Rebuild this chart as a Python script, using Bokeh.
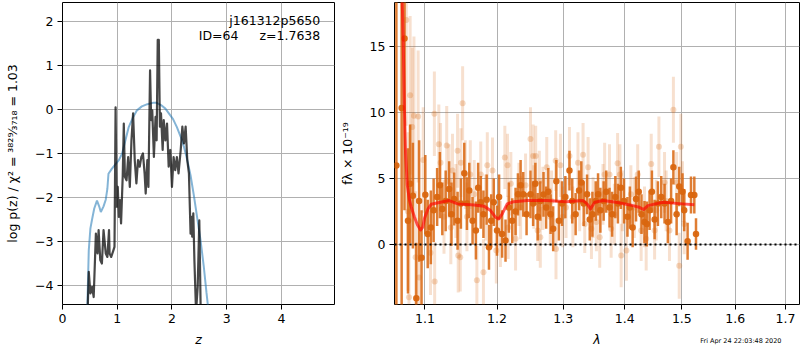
from bokeh.plotting import figure
from bokeh.layouts import column
from bokeh.models import (FixedTicker, PrintfTickFormatter, Span, Label, Range1d,
                          ColumnDataSource, GridBox)
from bokeh.embed import file_html
from bokeh.resources import INLINE

# ---------------- left panel: p(z) ----------------
z_chi = [0.43, 0.455, 0.48, 0.51, 0.54, 0.58, 0.63, 0.67, 0.70, 0.75, 0.79, 0.82, 0.84, 0.90, 0.97,
         1.03, 1.09, 1.15, 1.21, 1.28, 1.36, 1.45, 1.55, 1.65, 1.72, 1.80, 1.88, 1.95, 2.02, 2.09,
         2.16, 2.22, 2.28, 2.34, 2.40, 2.46, 2.52, 2.58, 2.63, 2.67, 2.70]
logp_chi = [-5.0, -4.43, -3.2, -2.7, -2.5, -2.25, -2.07, -2.2, -2.33, -2.2, -2.05, -1.8, -1.46, -1.35, -1.24,
            -1.15, -1.0, -0.7, -0.4, -0.2, -0.02, 0.07, 0.12, 0.15, 0.15, 0.1, 0.02, -0.1, -0.22, -0.4,
            -0.62, -0.85, -1.15, -1.5, -1.95, -2.45, -2.95, -3.55, -4.15, -4.6, -5.0]

z_pz = [0.45, 0.48, 0.51, 0.54, 0.57, 0.61, 0.64, 0.66, 0.69, 0.72, 0.75, 0.79, 0.82, 0.85, 0.86, 0.89,
        0.93, 0.95, 0.97, 0.99, 1.01, 1.03, 1.05, 1.07, 1.10, 1.12, 1.14, 1.17, 1.20, 1.23, 1.26, 1.29,
        1.32, 1.35, 1.38, 1.41, 1.44, 1.47, 1.50, 1.52, 1.55, 1.57, 1.60, 1.62, 1.64, 1.67, 1.70, 1.72,
        1.74, 1.76, 1.78, 1.80, 1.83, 1.85, 1.88, 1.91, 1.94, 1.97, 2.00, 2.03, 2.06, 2.09, 2.12, 2.16,
        2.19, 2.22, 2.25, 2.28, 2.31, 2.34, 2.36, 2.37, 2.39, 2.41, 2.44, 2.47, 2.50, 2.53]
logp_pz = [-5.0, -3.69, -4.18, -4.03, -4.26, -2.82, -3.27, -2.74, -3.42, -3.50, -2.74, -3.27, -3.35, -2.74,
           -3.27, -3.35, -3.20, -3.12, 0.05, -2.21, -1.76, -2.44, -2.06, -2.59, -1.53, -0.32, -1.53, -1.61,
           -1.08, -1.76, -0.70, -0.09, -1.15, -1.68, -1.15, -1.30, -1.08, -1.00, -1.45, -1.91, -1.15, -1.76,
           0.89, -0.24, -0.02, -1.08, -0.17, -0.70, 1.58, 1.58, -0.39, -0.09, -0.92, -0.24, -0.70, -0.32,
           -1.30, -0.92, -1.76, -1.08, -1.38, -1.08, -1.45, -0.92, -0.39, -0.77, -0.39, -1.15, -1.45, -2.82,
           -2.44, -2.89, -2.36, -3.42, -4.6, -4.03, -2.52, -5.0]

z_ticks = [0, 1, 2, 3, 4]
logp_ticks = [-4, -3, -2, -1, 0, 1, 2]
logp_tick_labels = ["\u22124", "\u22123", "\u22122", "\u22121", "0", "1", "2"]

obj_name = "j161312p5650"
obj_id = "ID=64"
obj_z = "z=1.7638"
left_ylabel = "log p(z) / \u03c7\u00b2 = \u00b3\u2078\u00b2\u2079\u2044\u2083\u2087\u2081\u2088 = 1.03"

# ---------------- right panel: spectrum ----------------
lam_bin = [1.0627, 1.0695, 1.0732, 1.0777, 1.0805, 1.0841, 1.0886, 1.0923, 1.0955, 1.1005,
           1.1037, 1.1079, 1.1116, 1.1163, 1.1200, 1.1233, 1.1279, 1.1326, 1.1358, 1.1395,
           1.1442, 1.1488, 1.1535, 1.1572, 1.1605, 1.1651, 1.1698, 1.1730, 1.1767, 1.1805,
           1.1851, 1.1884, 1.1916, 1.1953, 1.2000, 1.2030, 1.2074, 1.2124, 1.2173, 1.2223,
           1.2272, 1.2307, 1.2347, 1.2386, 1.2436, 1.2495, 1.2535, 1.2569, 1.2604, 1.2644,
           1.2693, 1.2733, 1.2767, 1.2802, 1.2842, 1.2891, 1.2931, 1.2980, 1.3032, 1.3097,
           1.3141, 1.3195, 1.3249, 1.3286, 1.3324, 1.3378, 1.3422, 1.3465, 1.3519, 1.3557,
           1.3595, 1.3649, 1.3692, 1.3746, 1.3789, 1.3843, 1.3886, 1.3935, 1.3989, 1.4047,
           1.4088, 1.4135, 1.4193, 1.4240, 1.4287, 1.4339, 1.4380, 1.4427, 1.4468, 1.4515,
           1.4573, 1.4632, 1.4690, 1.4749, 1.4807, 1.4848, 1.4906, 1.4953, 1.5012, 1.5043,
           1.5105, 1.5167, 1.5228, 1.5259]
flux_bin = [5.98, 10.34, 15.6, 1.8, 4.6, 3.7, -4.06, 3.3, -1.0, 3.78,
            0.8, 1.3, 2.6, 3.6, 4.5, 2.7, 3.3, 4.2, 2.3, 3.45,
            1.8, 3.1, 5.4, 3.1, 4.1, 1.8, 1.06, 4.3, 3.2, 2.3,
            3.4, -0.2, 1.8, 3.2, 1.06, 3.6, 0.8, 0.3, 2.8, 1.8,
            2.5, 3.8, 4.5, 3.8, 2.3, 3.8, 3.1, 4.6, 2.1, 3.3,
            3.8, 2.8, 4.0, 2.3, 1.2, 4.8, 1.8, 3.1, 3.6, 5.6,
            3.3, 2.3, 4.1, 4.7, 3.1, 3.8, 1.9, 2.3, 3.3, 3.8,
            2.6, 3.3, 4.0, 2.8, 2.3, 3.6, 3.1, 4.3, 3.3, 2.1,
            2.8, 1.3, 3.45, 4.0, 2.3, 1.7, 1.56, 2.6, 4.0, 1.9,
            3.1, 3.6, 3.1, 1.7, 3.3, 5.85, 2.3, 4.4, 4.0, 2.6,
            0.25, 3.75, 3.75, 0.8]
err_bin = [20, 16, 13, 5.5, 4.5, 4.0, 4.2, 4.6, 3.6, 3.0,
           2.6, 2.8, 2.4, 2.2, 2.5, 2.0, 2.3, 2.1, 2.4, 2.0,
           2.2, 1.9, 2.3, 2.0, 2.1, 1.8, 2.2, 1.9, 2.0, 1.8,
           1.9, 1.7, 2.0, 1.8, 1.9, 1.7, 1.8, 1.6, 1.9, 1.7,
           1.8, 1.6, 1.9, 1.7, 1.6, 1.8, 1.7, 1.6, 1.8, 1.5,
           1.7, 1.6, 1.8, 1.5, 1.7, 1.6, 1.5, 1.7, 1.6, 1.5,
           1.7, 1.6, 1.5, 1.6, 1.7, 1.5, 1.6, 1.7, 1.5, 1.6,
           1.7, 1.5, 1.6, 1.5, 1.7, 1.6, 1.5, 1.6, 1.7, 1.5,
           1.6, 1.5, 1.7, 1.6, 1.5, 1.6, 1.7, 1.5, 1.6, 1.5,
           1.7, 1.6, 1.5, 1.6, 1.7, 1.3, 1.6, 1.5, 1.4, 1.6,
           1.4, 1.4, 1.4, 1.2]

lam_raw = [1.0755, 1.0805, 1.0832, 1.0855, 1.0910, 1.0977, 1.0777, 1.0877, 1.0790, 1.0923,
           1.1126, 1.1186, 1.1209, 1.1293, 1.1326, 1.1372, 1.1442, 1.1451, 1.1479, 1.1512,
           1.1488, 1.1549, 1.1619, 1.1572, 1.1712, 1.1767, 1.1805, 1.1860, 1.1935, 1.1990,
           1.2050, 1.2114, 1.2153, 1.2202, 1.2272, 1.2322, 1.2421, 1.2495, 1.2535, 1.2574,
           1.2604, 1.2629, 1.2683, 1.2743, 1.2797, 1.2881, 1.2886, 1.2955, 1.3043, 1.3097,
           1.3232, 1.3314, 1.3341, 1.3395, 1.3449, 1.3530, 1.3584, 1.3665, 1.3746, 1.3773,
           1.3881, 1.3919, 1.3941, 1.4029, 1.4105, 1.4222, 1.4281, 1.4368, 1.4456, 1.4515,
           1.4591, 1.4690, 1.4778, 1.4848, 1.4906, 1.4953, 1.4982, 1.5043, 1.5012,
           1.1256, 1.1349, 1.1419, 1.1674, 1.1837, 1.2163, 1.2347, 1.2545, 1.2644, 1.2817,
           1.2990, 1.3151, 1.3259, 1.3476, 1.3638, 1.3827, 1.3962, 1.4164, 1.4339, 1.4544,
           1.4719, 1.1130, 1.1074]
flux_raw = [17.0, 11.3, 8.9, 9.75, 9.7, 6.4, 2.5, -0.96, -4.0, -2.5,
            9.9, 7.6, 6.2, 7.5, 4.8, 5.6, 7.1, -0.83, -0.96, 10.7,
            6.2, 5.3, 5.3, 2.1, -2.7, 5.3, -2.1, 6.0, 5.6, -0.45,
            0.8, 6.6, 6.0, 4.6, 0.43, 3.8, 4.5, 8.0, 6.7, 6.7,
            1.06, 4.8, 3.5, 5.85, 2.1, 6.35, -0.33, 6.0, 2.8, 6.7,
            6.2, 6.8, 1.56, 5.85, 1.2, 1.7, 0.55, 5.3, 5.3, 1.2,
            6.15, 5.3, -0.83, -0.45, 3.8, 5.3, 1.06, 0.43, 6.1, 1.06,
            7.4, 4.7, 1.06, 10.2, 4.7, -1.6, 7.4, 1.56, 4.0,
            2.1, 1.3, 3.3, 3.8, 2.8, 1.3, 2.8, 3.6, 0.55, 3.3,
            2.1, 2.1, 3.3, 2.8, 3.8, 2.3, 3.3, 2.8, 2.1, 2.6,
            3.3, -2.8, -0.63]
err_raw = [8.0, 6.0, 6.0, 6.0, 5.0, 4.0, 6.0, 5.0, 6.0, 4.5,
           3.2, 3.0, 3.0, 3.0, 2.8, 2.8, 2.8, 2.8, 2.6, 2.8,
           2.6, 2.6, 2.6, 2.6, 2.6, 2.5, 2.5, 2.5, 2.5, 2.5,
           2.5, 2.4, 2.4, 2.4, 2.4, 2.4, 2.4, 2.4, 2.4, 2.3,
           2.3, 2.3, 2.4, 2.3, 2.2, 2.3, 2.3, 2.4, 2.3, 2.2,
           2.3, 2.4, 2.2, 2.3, 2.3, 2.2, 2.3, 2.4, 2.3, 2.2,
           2.3, 2.3, 2.4, 2.3, 2.2, 2.3, 2.3, 2.4, 2.3, 2.2,
           2.3, 2.3, 2.3, 2.5, 2.3, 2.5, 2.5, 2.3, 2.3,
           2.8, 2.8, 2.8, 2.6, 2.5, 2.4, 2.4, 2.4, 2.3, 2.3,
           2.3, 2.3, 2.3, 2.3, 2.3, 2.3, 2.3, 2.3, 2.3, 2.3,
           2.3, 3.0, 3.2]

lam_model = [1.0700, 1.0715, 1.0730, 1.0745, 1.0768, 1.0795, 1.0821, 1.0860, 1.0900, 1.0942,
             1.0970, 1.0995, 1.1040, 1.1083, 1.1160, 1.1210, 1.1326, 1.1442, 1.1674, 1.1814,
             1.1907, 1.1977, 1.2025, 1.2074, 1.2149, 1.2248, 1.2446, 1.2743, 1.3043, 1.3314,
             1.3378, 1.3433, 1.3503, 1.3638, 1.3854, 1.4135, 1.4251, 1.4322, 1.4398, 1.4661,
             1.5012, 1.5228]
flux_model = [19.0, 15.5, 10.5, 7.0, 4.5, 3.4, 2.8, 2.1, 1.5, 1.1,
              1.3, 2.0, 2.7, 3.05, 3.15, 3.2, 3.33, 3.08, 3.0, 2.9,
              2.57, 2.07, 1.94, 2.3, 3.08, 3.25, 3.33, 3.33, 3.25, 3.33,
              3.08, 2.7, 3.2, 3.33, 3.2, 2.95, 2.82, 2.65, 2.95, 3.2,
              3.08, 3.02]

lam_ticks = [1.1, 1.2, 1.3, 1.4, 1.5, 1.6, 1.7]
flux_ticks = [0, 5, 10, 15]
timestamp = "Fri Apr 24 22:03:48 2020"

FONT = "DejaVu Sans"
FS = "12.5px"
ORANGE = "#d9660f"


def style(p):
    p.outline_line_color = "black"
    p.outline_line_alpha = 1.0
    p.outline_line_width = 1
    p.background_fill_color = "white"
    p.border_fill_color = "white"
    for ax in p.axis:
        ax.axis_line_color = None
        ax.major_tick_out = 5
        ax.major_tick_in = 0
        ax.minor_tick_out = 0
        ax.minor_tick_in = 0
        ax.major_tick_line_color = "black"
        ax.major_label_text_font = FONT
        ax.major_label_text_font_size = FS
        ax.major_label_text_color = "black"
        ax.axis_label_text_font = FONT
        ax.axis_label_text_font_size = FS
        ax.axis_label_text_color = "black"
        ax.major_label_standoff = 4
    for g in p.grid:
        g.grid_line_color = "#b0b0b0"
        g.grid_line_width = 1


# ---------- left figure ----------
p1 = figure(width=336, height=350, x_range=Range1d(0, 4.97), y_range=Range1d(-4.43, 2.43),
            output_backend="svg", toolbar_location=None,
            min_border_left=62, min_border_right=2, min_border_top=2, min_border_bottom=46)
style(p1)
p1.xaxis.ticker = FixedTicker(ticks=z_ticks)
p1.yaxis.ticker = FixedTicker(ticks=logp_ticks)
p1.yaxis.major_label_overrides = {t: s for t, s in zip(logp_ticks, logp_tick_labels)}
p1.xaxis.axis_label = "z"
p1.xaxis.axis_label_text_font_style = "italic"
p1.xaxis.axis_label_standoff = 6
p1.yaxis.axis_label = left_ylabel
p1.yaxis.axis_label_text_font_style = "normal"
p1.yaxis.axis_label_standoff = 12

p1.line(z_chi, logp_chi, line_color="#1f77b4", line_alpha=0.55, line_width=2)
p1.line(z_pz, logp_pz, line_color="black", line_alpha=0.72, line_width=2.2, line_join="round")

for txt, xx, yy in [(obj_name, 4.71, 2.02), (obj_id, 3.215, 1.68), (obj_z, 4.71, 1.68)]:
    p1.add_layout(Label(x=xx, y=yy, text=txt, text_align="right", text_baseline="middle",
                        text_font=FONT, text_font_size=FS, text_color="black"))

# ---------- right figure ----------
p2 = figure(width=464, height=350, x_axis_type="log", x_range=Range1d(1.0603, 1.729),
            y_range=Range1d(-4.54, 18.33), output_backend="svg", toolbar_location=None,
            min_border_left=55, min_border_right=1, min_border_top=2, min_border_bottom=46)
style(p2)
p2.xaxis.ticker = FixedTicker(ticks=lam_ticks)
p2.xaxis.formatter = PrintfTickFormatter(format="%.1f")
p2.yaxis.ticker = FixedTicker(ticks=flux_ticks)
p2.xaxis.axis_label = "\u03bb"
p2.xaxis.axis_label_text_font_style = "italic"
p2.xaxis.axis_label_standoff = 6
p2.yaxis.axis_label = "f\u03bb \u00d7 10\u207b\u00b9\u2079"
p2.yaxis.axis_label_text_font_style = "normal"
p2.yaxis.axis_label_standoff = 12

raw = ColumnDataSource(dict(x=lam_raw, y=flux_raw,
                            lo=[f - e for f, e in zip(flux_raw, err_raw)],
                            hi=[f + e for f, e in zip(flux_raw, err_raw)]))
binned = ColumnDataSource(dict(x=lam_bin, y=flux_bin,
                               lo=[f - e for f, e in zip(flux_bin, err_bin)],
                               hi=[f + e for f, e in zip(flux_bin, err_bin)]))

p2.segment(x0="x", y0="lo", x1="x", y1="hi", source=raw, line_color=ORANGE, line_alpha=0.2, line_width=3)
p2.scatter("x", "y", source=raw, size=6, fill_color=ORANGE, fill_alpha=0.25, line_color=None)
p2.segment(x0="x", y0="lo", x1="x", y1="hi", source=binned, line_color=ORANGE, line_alpha=0.85, line_width=2.5)
p2.scatter("x", "y", source=binned, size=6.5, fill_color=ORANGE, fill_alpha=0.95, line_color=None)
p2.line(lam_model, flux_model, line_color="red", line_alpha=0.65, line_width=3, line_join="round")
p2.add_layout(Span(location=0, dimension="width", line_color="black", line_width=2, line_dash="2 3"))

# ---------- transparent overlay carrying the timestamp (same grid cell as p2) ----------
p3 = figure(width=464, height=350, x_range=Range1d(0, 1), y_range=Range1d(0, 1),
            output_backend="svg", toolbar_location=None, min_border=0,
            x_axis_location=None, y_axis_location=None)
p3.grid.visible = False
p3.outline_line_color = None
p3.background_fill_alpha = 0
p3.border_fill_alpha = 0
p3.add_layout(Label(x=445, y=10, x_units="screen", y_units="screen", text=timestamp,
                    text_align="right", text_baseline="middle",
                    text_font=FONT, text_font_size="6.5px", text_color="black"))
overlay = column(p3, width=464, height=350)

layout = GridBox(children=[(p1, 0, 0), (p2, 0, 1), (overlay, 0, 1)])

open("out.html", "w").write(file_html(layout, INLINE))
